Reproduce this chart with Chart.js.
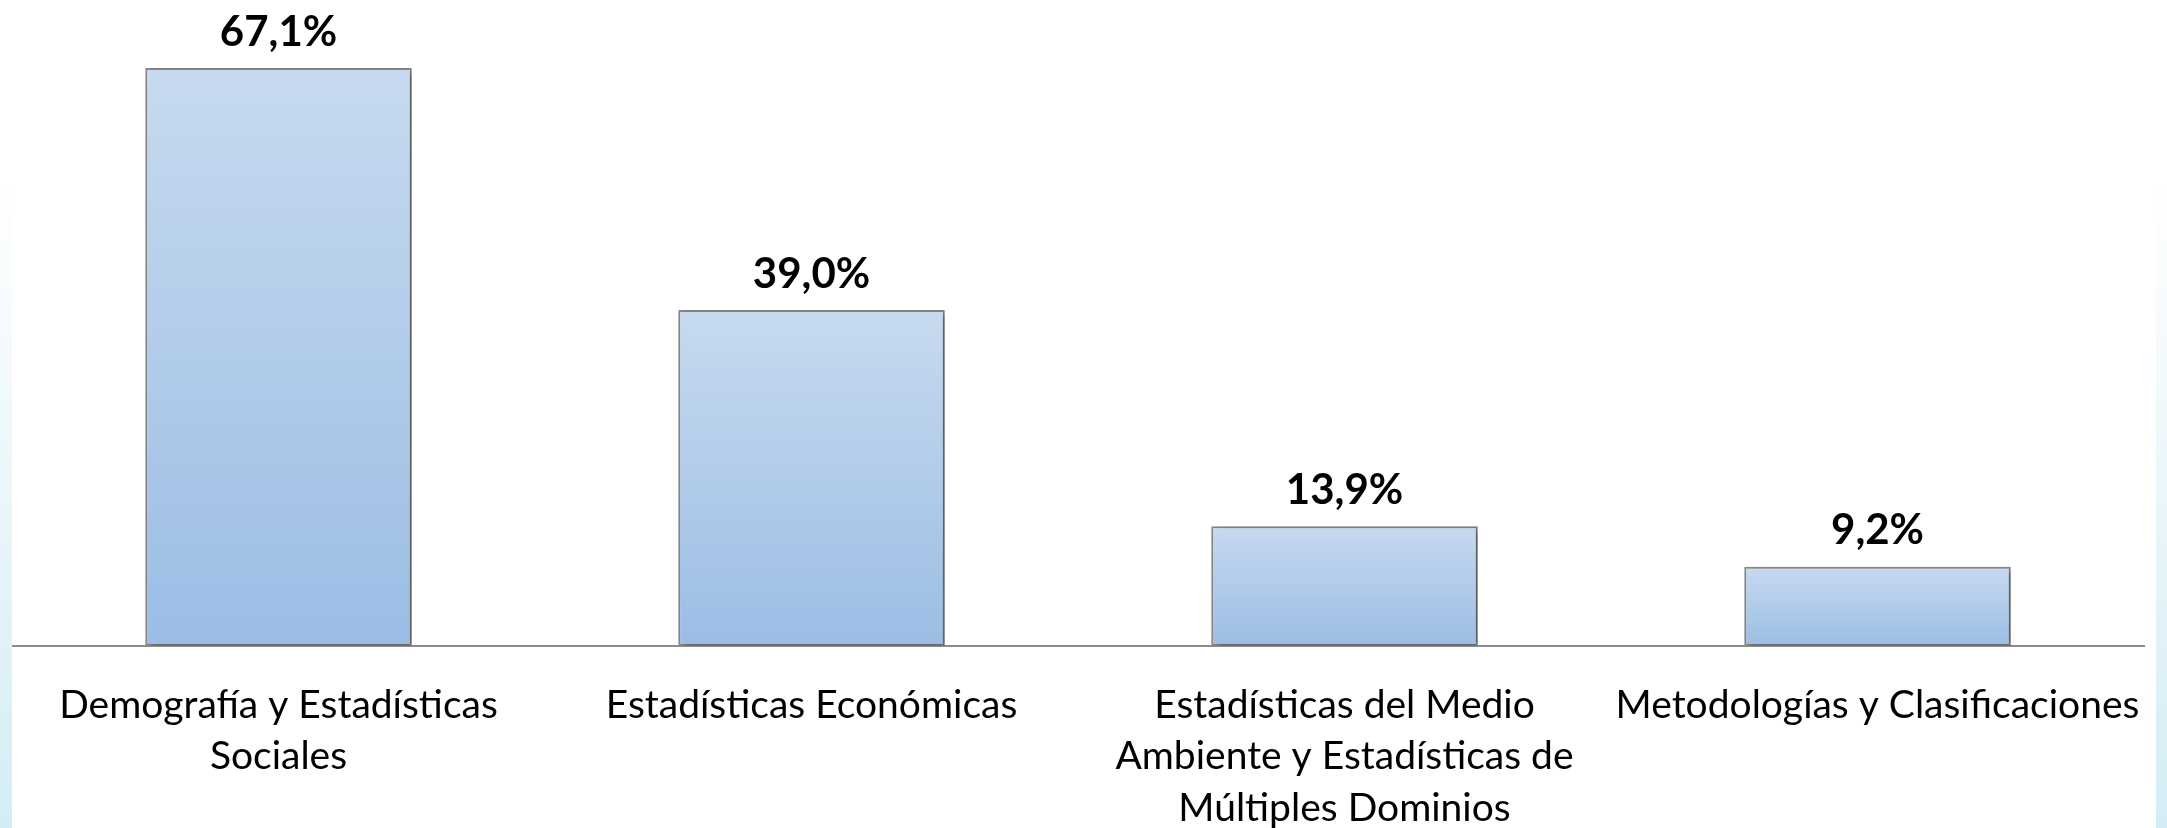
<!doctype html>
<html lang="es">

<head>
    <meta charset="utf-8">
    <title>Estadísticas por dominio</title>
    <script src="https://cdn.jsdelivr.net/npm/chart.js@4.4.1/dist/chart.umd.min.js"></script>
    <style>
        html, body {
            margin: 0;
            padding: 0;
        }

        body {
            width: 2167px;
            height: 828px;
            overflow: hidden;
            background: linear-gradient(to bottom, #ffffff 22%, #d4edf5 100%);
        }

        #marco {
            position: absolute;
            left: 12px;
            top: 0;
            width: 2144px;
            height: 828px;
            background: #ffffff;
        }
    </style>
</head>

<body>

    <div id="marco">
        <canvas id="chart" width="2144" height="828"></canvas>
    </div>

    <script>
        // categorías (eje x) y porcentajes
        var categorias = [
            ["Demografía y Estadísticas", "Sociales"],
            "Estadísticas Económicas",
            ["Estadísticas del Medio", "Ambiente y Estadísticas de", "Múltiples Dominios"],
            "Metodologías y Clasificaciones"
        ];
        var porcentajes = [67.1, 39.0, 13.9, 9.2];
        var yMax = 75;

        function relleno(context) {
            var chart = context.chart;
            var y = chart.scales && chart.scales.y;
            if (!y || !context.parsed) {
                return '#b3cdec';
            }
            var top = y.getPixelForValue(context.parsed.y);
            var base = y.getPixelForValue(0);
            if (!isFinite(top) || !isFinite(base) || top === base) {
                return '#b3cdec';
            }
            var g = chart.ctx.createLinearGradient(0, top, 0, base);
            g.addColorStop(0, '#c7daef');
            g.addColorStop(1, '#9bbde5');
            return g;
        }

        // sombra de las barras
        var sombra = {
            id: 'sombra',
            beforeDatasetsDraw: function (chart) {
                var ctx = chart.ctx;
                ctx.save();
                ctx.shadowColor = 'rgba(0,0,0,0.35)';
                ctx.shadowBlur = 7;
                ctx.shadowOffsetX = 4;
                ctx.shadowOffsetY = 2;
            },
            afterDatasetsDraw: function (chart) {
                chart.ctx.restore();
            }
        };

        // etiquetas de valor sobre cada barra
        var etiquetas = {
            id: 'etiquetas',
            afterDraw: function (chart) {
                var ctx = chart.ctx;
                var meta = chart.getDatasetMeta(0);
                ctx.save();
                ctx.font = 'bold 42px Lato';
                ctx.fillStyle = '#000000';
                ctx.textAlign = 'center';
                ctx.textBaseline = 'middle';
                meta.data.forEach(function (bar, i) {
                    var txt = porcentajes[i].toFixed(1).replace('.', ',') + '%';
                    ctx.fillText(txt, bar.x, bar.y - 36);
                });
                ctx.restore();
            }
        };

        new Chart(document.getElementById('chart').getContext('2d'), {
            type: 'bar',
            data: {
                labels: categorias,
                datasets: [{
                    data: porcentajes,
                    backgroundColor: relleno,
                    borderColor: '#8a8a8a',
                    borderWidth: 2,
                    borderSkipped: false,
                    categoryPercentage: 0.5,
                    barPercentage: 1
                }]
            },
            options: {
                responsive: false,
                animation: false,
                layout: {
                    padding: { top: 0, right: 12, left: 0, bottom: 0 }
                },
                plugins: {
                    legend: { display: false },
                    tooltip: { enabled: false }
                },
                scales: {
                    x: {
                        grid: { display: false },
                        border: { display: true, color: '#8c8c8c', width: 2 },
                        ticks: {
                            color: '#000000',
                            padding: 25,
                            maxRotation: 0,
                            autoSkip: false,
                            font: { family: 'Lato', size: 39, lineHeight: 1.33 }
                        },
                        afterFit: function (scale) {
                            scale.height = 182;
                            scale.paddingLeft = 0;
                            scale.paddingRight = 0;
                        }
                    },
                    y: {
                        display: false,
                        min: 0,
                        max: yMax
                    }
                }
            },
            plugins: [sombra, etiquetas]
        });
    </script>

</body>

</html>
